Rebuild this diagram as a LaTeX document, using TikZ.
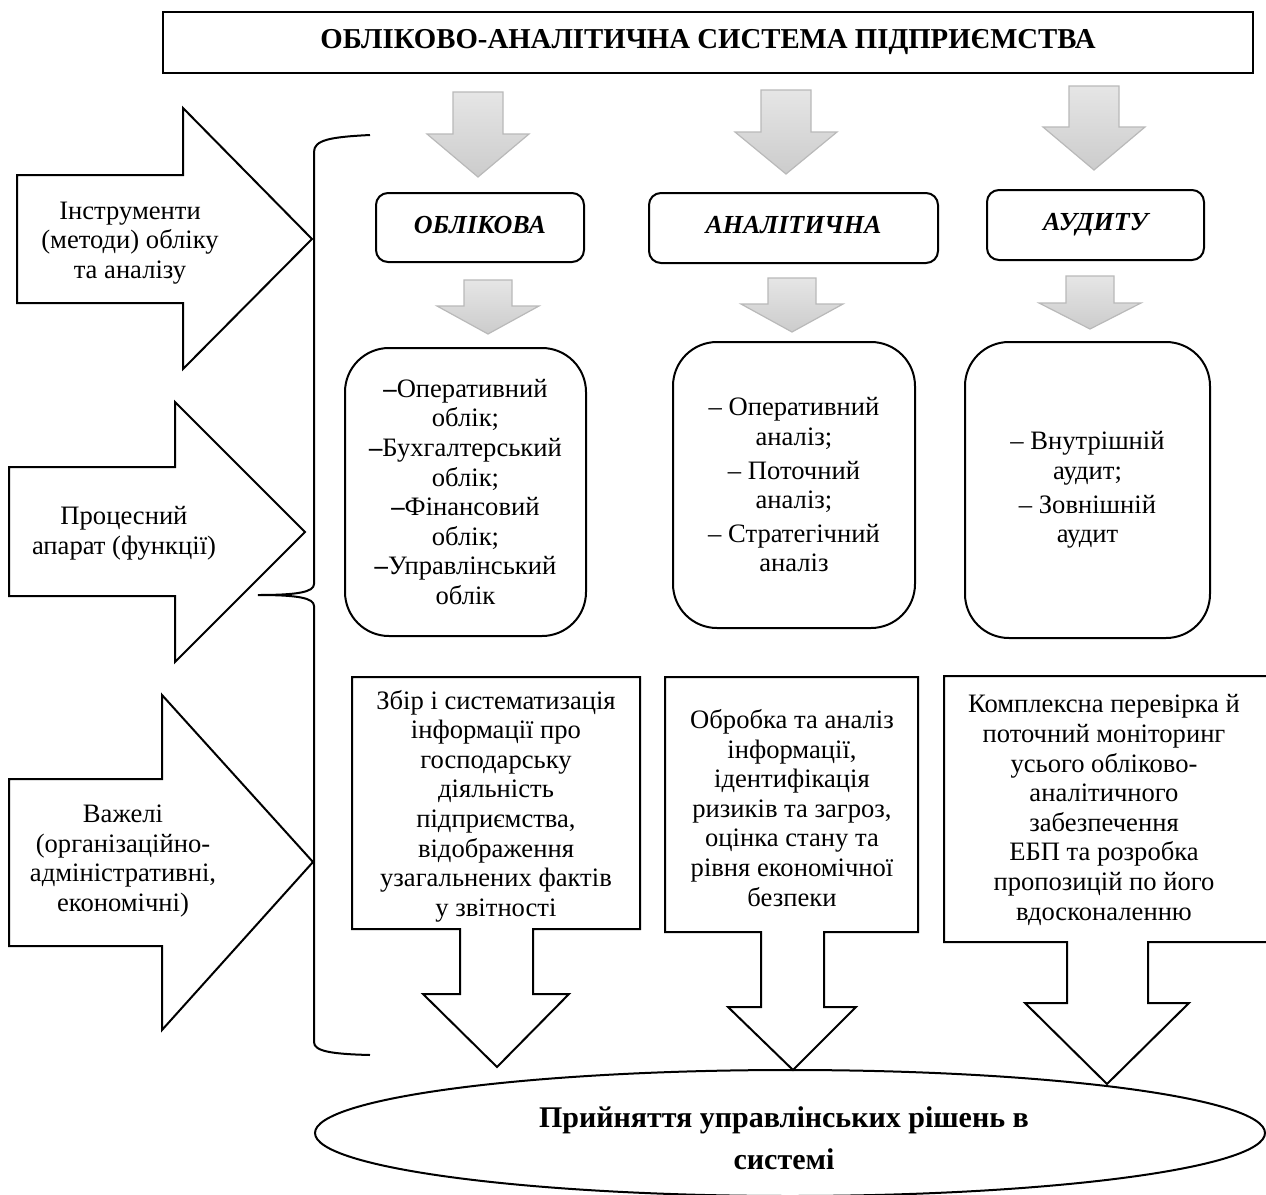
\documentclass[tikz,border=0pt]{standalone}
\usepackage{fontspec}
\setmainfont{Liberation Serif}
\usetikzlibrary{shapes.geometric}
\begin{document}
\begin{tikzpicture}[x=0.5pt,y=-0.5pt,
  blk/.style={draw=black,line width=1pt,fill=white,line join=miter},
  gar/.style={draw=gray!55,line width=0.6pt,top color=gray!20,bottom color=gray!40},
  txt/.style={align=center,font=\fontsize{13.3}{14.8}\selectfont,inner sep=0pt},
  hdr/.style={draw=black,line width=1pt,rounded corners=6pt,fill=white,
    text height=1.6ex,text depth=0.3ex,
    font=\fontsize{13}{15}\selectfont\bfseries\itshape},
  rbox/.style={draw=black,line width=1pt,rounded corners=22pt,align=center,
    font=\fontsize{13.3}{14.8}\selectfont,inner sep=0pt},
]
\useasboundingbox (0,0) rectangle (1266,1195);

% title
\node[draw=black,line width=1.3pt,minimum width=545pt,minimum height=30.5pt,
  font=\fontsize{14.4}{16}\selectfont\bfseries] (title) at (708,42.5)
  {ОБЛІКОВО-АНАЛІТИЧНА СИСТЕМА ПІДПРИЄМСТВА};

% top gray arrows
\path[gar] (453,92)--(503,92)--(503,134)--(529,134)--(478,177)--(427,134)--(453,134)--cycle;
\path[gar] (761,90)--(811,90)--(811,132)--(837,132)--(786,174)--(735,132)--(761,132)--cycle;
\path[gar] (1069,86)--(1119,86)--(1119,127)--(1145,127)--(1094,170)--(1043,127)--(1069,127)--cycle;

% headers
\node[hdr,minimum width=104pt,minimum height=34.5pt] (obl) at (480,227.5) {ОБЛІКОВА};
\node[hdr,minimum width=144.5pt,minimum height=35pt] (anl) at (793.5,228) {АНАЛІТИЧНА};
\node[hdr,minimum width=108.5pt,minimum height=35pt] (aud) at (1095.5,225) {АУДИТУ};

% second gray arrows
\path[gar] (464,280)--(512,280)--(512,306)--(539,306)--(488,334)--(437,306)--(464,306)--cycle;
\path[gar] (768,278)--(816,278)--(816,304)--(843,304)--(792,332)--(741,304)--(768,304)--cycle;
\path[gar] (1066,276)--(1114,276)--(1114,303)--(1141,303)--(1090,329)--(1039,303)--(1066,303)--cycle;

% rounded boxes
\node[rbox,minimum width=120.5pt,minimum height=144pt] (r1) at (465.5,492)
  {{\bfseries –}Оперативний\\облік;\\{\bfseries –}Бухгалтерський\\облік;\\{\bfseries –}Фінансовий\\облік;\\{\bfseries –}Управлінський\\облік};
\node[rbox,minimum width=121pt,minimum height=143pt] (r2) at (794,485)
  {– Оперативний\\аналіз;\\[2pt]– Поточний\\аналіз;\\[2pt]– Стратегічний\\аналіз};
\node[rbox,minimum width=122.5pt,minimum height=148pt] (r3) at (1087.5,490)
  {– Внутрішній\\аудит;\\[2pt]– Зовнішній\\аудит};

% bottom callout boxes
\path[blk] (352,677)--(640,677)--(640,929)--(533,929)--(533,994)--(569,994)--(497,1067)--(423,994)--(460,994)--(460,929)--(352,929)--cycle;
\path[blk] (665,677)--(918,677)--(918,932)--(824,932)--(824,1007)--(856,1007)--(793,1070)--(728,1007)--(761,1007)--(761,932)--(665,932)--cycle;
\path[blk] (944,676)--(1270,676)--(1270,942)--(1148,942)--(1148,1003)--(1189,1003)--(1107,1084)--(1025,1003)--(1067,1003)--(1067,942)--(944,942)--cycle;

\node[txt] (c1) at (496,806) {Збір і систематизація\\інформації про\\господарську\\діяльність\\підприємства,\\відображення\\узагальнених фактів\\у звітності};
\node[txt] (c2) at (792,808) {Обробка та аналіз\\інформації,\\ідентифікація\\ризиків та загроз,\\оцінка стану та\\рівня економічної\\безпеки};
\node[txt] (c3) at (1104,810) {Комплексна перевірка й\\поточний моніторинг\\усього обліково-\\аналітичного\\забезпечення\\ЕБП та розробка\\пропозицій по його\\вдосконаленню};

% decision ellipse
\node[ellipse,draw=black,line width=1pt,minimum width=475pt,minimum height=63pt,inner sep=0pt] (dec) at (790,1133) {};
\node[align=center,font=\fontsize{15}{21}\selectfont\bfseries,inner sep=0pt] (dect) at (784,1138)
  {Прийняття управлінських рішень в\\системі};

% left arrows
\path[blk] (17,175)--(183,175)--(183,108)--(312,239)--(183,369)--(183,303)--(17,303)--cycle;
\path[blk] (9,467)--(175,467)--(175,402)--(305,532)--(175,662)--(175,596)--(9,596)--cycle;
\path[blk] (9,779)--(162,779)--(162,695)--(313,862)--(162,1030)--(162,946)--(9,946)--cycle;
\node[txt] (la) at (130,243) {Інструменти\\(методи) обліку\\та аналізу};
\node[txt] (lb) at (124,533) {Процесний\\апарат (функції)};
\node[txt] (lc) at (123,861) {Важелі\\(організаційно-\\адміністративні,\\економічні)};

% brace
\draw[line width=1pt] (370,135) .. controls (330,137) and (314,140) .. (314,152)
  -- (314,584) .. controls (314,592) and (298,595) .. (258,595)
  .. controls (298,595) and (314,598) .. (314,606)
  -- (314,1042) .. controls (314,1051) and (330,1054) .. (370,1055);
\end{tikzpicture}
\end{document}
